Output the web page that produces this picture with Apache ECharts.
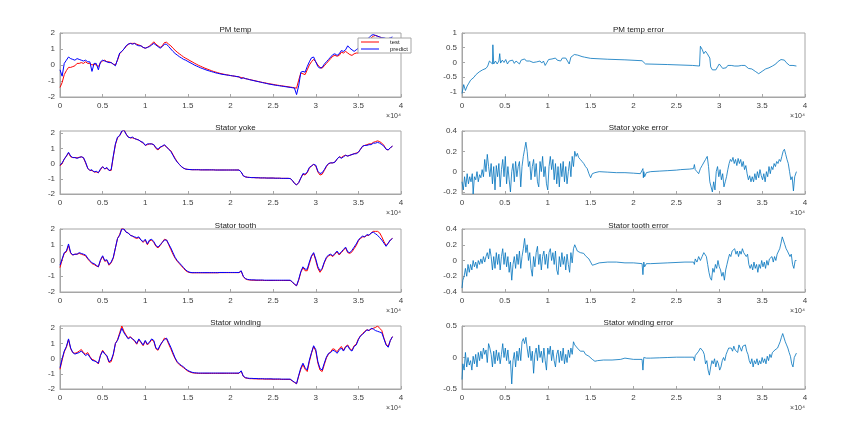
<!DOCTYPE html>
<html><head><meta charset="utf-8">
<script src="https://cdn.jsdelivr.net/npm/echarts@6/dist/echarts.min.js"></script>
<style>html,body{margin:0;padding:0;background:#fff}#c{width:865px;height:438px}</style>
</head><body><div id="c"></div>
<script>
// ---- data ----
const titles = ['PM temp','PM temp error','Stator yoke','Stator yoke error','Stator tooth','Stator tooth error','Stator winding','Stator winding error'];
const xTicks = [0,5000,10000,15000,20000,25000,30000,35000,40000];
const legendNames = ['test','predict'];
// sample positions for the left-column curves (every 250 samples)
const mainX = Array.from({length:157},(_,i)=>i*250);

const pmTest = [-1.4,-1.1,-0.6,-0.35,-0.15,-0.15,-0.1,-0.05,0.1,0.1,
0.15,0.1,0.2,0.1,0.1,0.0,0.05,0.0,-0.1,0.15,
0.25,0.3,0.2,0.2,0.15,0.05,0.0,0.3,0.7,0.85,
1.0,1.15,1.3,1.35,1.35,1.35,1.3,1.25,1.2,1.1,
1.05,1.1,1.2,1.3,1.45,1.3,1.2,1.1,1.2,1.4,
1.42,1.3,1.2,1.05,0.92,0.8,0.7,0.6,0.5,0.42,
0.35,0.27,0.2,0.12,0.05,-0.02,-0.08,-0.14,-0.2,-0.25,
-0.3,-0.35,-0.4,-0.44,-0.48,-0.52,-0.55,-0.58,-0.61,-0.63,
-0.66,-0.68,-0.7,-0.73,-0.75,-0.78,-0.81,-0.85,-0.88,-0.91,
-0.94,-0.97,-1.0,-1.03,-1.06,-1.09,-1.11,-1.14,-1.17,-1.19,
-1.21,-1.24,-1.26,-1.28,-1.3,-1.32,-1.34,-1.36,-1.38,-1.4,
-1.42,-1.45,-0.95,-0.5,-0.55,-0.6,-0.3,0.0,0.2,0.35,
0.2,0.0,-0.15,-0.2,-0.05,0.1,0.25,0.4,0.55,0.6,
0.55,0.6,0.8,0.75,0.85,0.75,0.65,0.6,0.7,0.75,
0.75,0.9,1.1,1.25,1.4,1.55,1.7,1.8,1.85,1.8,
1.75,1.7,1.65,1.6,1.55,1.6,1.65];
const pmPred = [-0.3,-0.7,0.1,0.3,0.5,0.4,0.35,0.3,0.4,0.35,
0.3,0.25,0.3,0.2,0.2,-0.4,0.1,0.1,-0.3,0.2,
0.3,0.25,0.2,0.15,0.15,0.05,-0.05,0.35,0.75,0.85,
1.0,1.2,1.3,1.35,1.3,1.35,1.25,1.2,1.2,1.1,
1.05,1.1,1.15,1.25,1.35,1.25,1.15,1.05,1.15,1.3,
1.3,1.15,1.0,0.85,0.72,0.62,0.52,0.44,0.35,0.3,
0.22,0.15,0.08,0.0,-0.06,-0.12,-0.18,-0.23,-0.28,-0.33,
-0.37,-0.41,-0.45,-0.49,-0.52,-0.55,-0.58,-0.6,-0.62,-0.64,
-0.66,-0.68,-0.7,-0.72,-0.74,-0.85,-0.8,-0.85,-0.88,-0.92,
-0.95,-0.98,-1.01,-1.04,-1.07,-1.1,-1.13,-1.16,-1.19,-1.21,
-1.24,-1.26,-1.28,-1.3,-1.32,-1.34,-1.36,-1.38,-1.4,-1.42,
-1.44,-1.85,-1.3,-0.45,-0.4,-0.45,-0.1,0.2,0.45,0.5,
0.2,-0.1,-0.2,-0.15,0.05,0.2,0.35,0.5,0.65,0.7,
0.6,0.7,0.9,0.85,0.95,1.2,1.05,0.95,0.85,0.95,
1.05,1.15,1.3,1.45,1.6,1.7,1.85,1.9,1.85,1.8,
1.75,1.7,1.7,1.65,1.65,1.7,1.75];

const yokeTest = [-0.15,0.0,0.3,0.5,0.7,0.45,0.4,0.4,0.38,0.42,
0.45,0.38,0.05,-0.3,-0.45,-0.45,-0.55,-0.55,-0.6,-0.4,
-0.2,-0.35,-0.3,-0.45,-0.45,0.45,1.25,1.7,1.85,2.1,
2.25,1.95,1.75,1.7,1.7,1.65,1.6,1.55,1.45,1.35,
1.2,1.25,1.3,1.3,1.25,1.0,0.9,1.05,1.15,1.2,
1.1,0.95,0.85,0.6,0.35,0.12,-0.05,-0.2,-0.3,-0.36,
-0.38,-0.39,-0.4,-0.4,-0.4,-0.4,-0.41,-0.41,-0.41,-0.41,
-0.41,-0.41,-0.41,-0.42,-0.42,-0.42,-0.42,-0.42,-0.42,-0.42,
-0.42,-0.42,-0.42,-0.42,-0.42,-0.55,-0.8,-0.87,-0.9,-0.91,
-0.92,-0.92,-0.93,-0.93,-0.94,-0.94,-0.94,-0.95,-0.95,-0.95,
-0.95,-0.96,-0.96,-0.96,-0.97,-0.97,-0.97,-0.97,-0.98,-1.1,
-1.3,-1.4,-1.25,-0.95,-0.7,-0.75,-0.6,-0.3,-0.15,-0.05,
-0.15,-0.55,-0.75,-0.7,-0.45,-0.2,0.0,0.05,0.05,0.1,
0.3,0.45,0.4,0.5,0.55,0.5,0.55,0.6,0.65,0.7,
0.75,0.95,1.15,1.2,1.25,1.3,1.3,1.4,1.45,1.5,
1.45,1.35,1.2,0.95,0.9,1.05,1.15];
const yokePred = [-0.1,0.05,0.3,0.5,0.75,0.5,0.4,0.4,0.35,0.4,
0.45,0.4,0.1,-0.3,-0.45,-0.4,-0.55,-0.5,-0.6,-0.35,
-0.2,-0.35,-0.25,-0.45,-0.4,0.5,1.3,1.75,1.85,2.15,
2.2,1.95,1.75,1.7,1.75,1.65,1.6,1.55,1.45,1.4,
1.2,1.3,1.3,1.3,1.25,1.05,0.95,1.1,1.15,1.25,
1.1,0.95,0.8,0.55,0.3,0.1,-0.05,-0.2,-0.3,-0.36,
-0.38,-0.39,-0.4,-0.4,-0.4,-0.4,-0.41,-0.41,-0.41,-0.41,
-0.41,-0.41,-0.41,-0.42,-0.42,-0.42,-0.42,-0.42,-0.42,-0.42,
-0.42,-0.42,-0.42,-0.42,-0.42,-0.55,-0.8,-0.87,-0.9,-0.91,
-0.92,-0.92,-0.93,-0.93,-0.94,-0.94,-0.94,-0.95,-0.95,-0.95,
-0.95,-0.96,-0.96,-0.96,-0.97,-0.97,-0.97,-0.97,-0.98,-1.1,
-1.3,-1.4,-1.25,-0.95,-0.65,-0.7,-0.55,-0.25,-0.15,-0.05,
-0.1,-0.5,-0.65,-0.6,-0.4,-0.15,0.0,0.05,0.05,0.1,
0.3,0.45,0.35,0.45,0.55,0.5,0.55,0.6,0.65,0.65,
0.75,0.95,1.15,1.2,1.2,1.25,1.25,1.35,1.35,1.4,
1.35,1.25,1.15,0.95,0.9,1.05,1.15];

const toothTest = [-0.45,0.05,0.45,0.55,0.95,0.45,0.35,0.4,0.4,0.45,
0.4,0.35,0.3,0.1,-0.05,-0.2,-0.25,-0.35,-0.4,0.0,
0.25,-0.05,0.0,-0.3,-0.15,0.15,0.8,1.4,1.65,2.05,
2.0,1.8,1.75,1.6,1.55,1.45,1.4,1.45,1.3,1.15,
1.3,1.0,1.25,1.3,1.15,0.9,0.8,0.95,1.15,1.35,
1.3,1.0,0.7,0.4,0.15,-0.05,-0.2,-0.35,-0.5,-0.65,
-0.73,-0.77,-0.78,-0.78,-0.78,-0.78,-0.78,-0.78,-0.78,-0.78,
-0.78,-0.78,-0.78,-0.78,-0.78,-0.77,-0.77,-0.77,-0.77,-0.77,
-0.77,-0.77,-0.77,-0.77,-0.77,-0.68,-1.02,-1.17,-1.22,-1.24,
-1.25,-1.25,-1.26,-1.26,-1.26,-1.26,-1.27,-1.27,-1.27,-1.27,
-1.27,-1.27,-1.27,-1.27,-1.27,-1.27,-1.27,-1.27,-1.27,-1.37,
-1.52,-1.6,-1.25,-0.75,-0.45,-0.65,-0.65,-0.2,0.25,0.45,
0.0,-0.5,-0.75,-0.55,-0.15,0.15,0.3,0.35,0.25,0.4,
0.55,0.35,0.5,0.65,0.8,0.5,0.45,0.55,0.75,0.95,
1.25,1.4,1.5,1.5,1.6,1.6,1.75,1.85,1.85,1.85,
1.75,1.5,1.2,0.95,1.1,1.3,1.4];
const toothPred = [-0.3,0.1,0.5,0.6,1.05,0.5,0.35,0.4,0.4,0.5,
0.45,0.4,0.35,0.15,0.0,-0.15,-0.2,-0.3,-0.4,0.05,
0.3,0.0,0.05,-0.25,-0.1,0.2,0.8,1.4,1.6,2.0,
2.0,1.8,1.75,1.6,1.55,1.5,1.45,1.5,1.3,1.2,
1.35,1.05,1.3,1.35,1.2,0.95,0.85,1.0,1.15,1.3,
1.3,1.05,0.8,0.5,0.2,0.0,-0.15,-0.3,-0.45,-0.6,
-0.7,-0.75,-0.77,-0.77,-0.77,-0.77,-0.77,-0.77,-0.77,-0.77,
-0.77,-0.77,-0.77,-0.77,-0.77,-0.76,-0.76,-0.76,-0.76,-0.76,
-0.76,-0.76,-0.76,-0.76,-0.76,-0.65,-1.0,-1.15,-1.2,-1.22,
-1.23,-1.23,-1.24,-1.24,-1.24,-1.24,-1.25,-1.25,-1.25,-1.25,
-1.25,-1.25,-1.25,-1.25,-1.25,-1.25,-1.25,-1.25,-1.25,-1.35,
-1.5,-1.6,-1.2,-0.7,-0.4,-0.55,-0.55,-0.1,0.3,0.5,
0.1,-0.4,-0.65,-0.5,-0.1,0.2,0.35,0.4,0.3,0.45,
0.6,0.4,0.55,0.7,0.85,0.55,0.5,0.65,0.85,1.05,
1.3,1.45,1.55,1.5,1.65,1.6,1.75,1.8,1.7,1.6,
1.45,1.3,1.1,0.9,1.1,1.3,1.4];

const windTest = [-0.7,-0.1,0.45,0.75,1.25,0.65,0.4,0.35,0.4,0.5,
0.6,0.4,0.3,0.4,0.15,-0.05,-0.1,-0.2,-0.35,0.25,
0.55,0.35,0.15,-0.25,-0.2,0.25,1.0,1.25,1.7,2.15,
1.8,1.55,1.35,1.45,1.3,1.15,0.95,1.25,1.05,0.85,
1.15,0.9,1.05,1.25,1.15,0.65,0.55,0.85,1.1,1.35,
1.3,0.95,0.65,0.3,0.0,-0.25,-0.4,-0.5,-0.6,-0.72,
-0.82,-0.88,-0.93,-0.95,-0.96,-0.97,-0.97,-0.97,-0.97,-0.97,
-0.97,-0.97,-0.97,-0.97,-0.97,-0.97,-0.97,-0.97,-0.97,-0.97,
-0.97,-0.97,-0.97,-0.97,-0.97,-0.82,-1.17,-1.27,-1.3,-1.32,
-1.32,-1.33,-1.33,-1.34,-1.34,-1.34,-1.35,-1.35,-1.35,-1.35,
-1.36,-1.36,-1.36,-1.36,-1.37,-1.37,-1.37,-1.37,-1.37,-1.47,
-1.57,-1.65,-1.15,-0.7,-0.4,-0.7,-0.85,-0.2,0.35,0.8,
0.5,-0.3,-0.75,-0.85,-0.4,0.05,0.3,0.45,0.65,0.6,
0.45,0.65,0.8,0.55,0.8,0.9,0.65,0.55,0.85,0.95,
1.3,1.5,1.65,1.8,1.9,1.85,1.95,2.0,2.05,2.15,
2.0,1.85,1.35,0.95,0.8,1.2,1.45];
const windPred = [-0.6,0.0,0.5,0.8,1.3,0.7,0.4,0.3,0.35,0.4,
0.5,0.35,0.2,0.3,0.1,-0.1,-0.15,-0.2,-0.3,0.2,
0.5,0.3,0.2,-0.2,-0.1,0.3,1.0,1.2,1.6,2.0,
1.7,1.5,1.3,1.4,1.3,1.2,1.0,1.3,1.1,0.9,
1.2,0.95,1.1,1.3,1.2,0.7,0.6,0.9,1.1,1.25,
1.35,1.05,0.75,0.4,0.05,-0.2,-0.35,-0.45,-0.55,-0.68,
-0.78,-0.85,-0.9,-0.93,-0.94,-0.95,-0.95,-0.95,-0.95,-0.95,
-0.95,-0.95,-0.95,-0.95,-0.95,-0.95,-0.95,-0.95,-0.95,-0.95,
-0.95,-0.95,-0.95,-0.95,-0.95,-0.8,-1.15,-1.25,-1.28,-1.3,
-1.3,-1.31,-1.31,-1.32,-1.32,-1.32,-1.33,-1.33,-1.33,-1.33,
-1.34,-1.34,-1.34,-1.34,-1.35,-1.35,-1.35,-1.35,-1.35,-1.45,
-1.55,-1.65,-1.1,-0.6,-0.3,-0.6,-0.75,-0.1,0.4,0.85,
0.6,-0.2,-0.65,-0.75,-0.3,0.1,0.35,0.4,0.55,0.5,
0.35,0.55,0.7,0.5,0.75,0.85,0.6,0.5,0.8,0.9,
1.25,1.5,1.6,1.75,1.9,1.85,2.0,1.95,1.85,1.8,
1.75,1.7,1.3,0.9,0.75,1.2,1.45];

// error curves: [sample index, error]
const pmErr = [[0,-1.05],[200,-0.75],[400,-0.95],[600,-0.8],[800,-0.7],[1000,-0.6],[1200,-0.55],[1400,-0.5],[1600,-0.42],[1800,-0.4],
[2000,-0.32],[2200,-0.35],[2400,-0.25],[2600,-0.22],[2800,-0.2],[3000,-0.12],[3200,0.05],[3400,0.1],[3550,-0.05],[3600,0.6],
[3700,-0.05],[3900,0.05],[4100,-0.05],[4300,0.05],[4400,0.3],[4500,-0.02],[4700,0.08],[4900,0.0],[5100,0.1],[5300,-0.05],
[5500,0.05],[5700,0.0],[5900,0.08],[6100,-0.03],[6300,0.05],[6500,0.02],[6700,-0.05],[6900,0.08],[7100,0.1],[7300,0.12],
[7500,0.05],[7700,0.1],[7900,0.05],[8100,0.08],[8300,0.0],[8500,0.06],[8700,0.02],[8900,0.08],[9100,0.05],[9300,-0.02],
[9500,0.05],[9700,-0.1],[9900,0.0],[10100,0.1],[10300,0.05],[10500,0.12],[10700,0.08],[10900,0.15],[11100,0.08],[11300,0.12],
[11500,0.05],[11700,0.15],[11900,0.1],[12100,0.15],[12300,0.12],[12500,-0.05],[12700,0.18],[12900,0.22],[13100,0.27],[13300,0.3],
[13500,0.25],[13700,0.21],[14000,0.2],[14300,0.18],[14400,0.22],[14500,0.15],[15000,0.14],[17000,0.11],[19000,0.09],[21000,0.06],
[21100,0.12],[21200,0.0],[21400,-0.05],[24000,-0.07],[26900,-0.1],[27000,-0.06],[27100,-0.11],[27700,-0.12],[27800,0.55],[28000,0.45],
[28200,0.3],[28400,0.38],[28600,0.3],[28800,0.35],[28900,0.15],[29000,-0.15],[29200,-0.25],[29400,-0.2],[29600,-0.25],[29800,-0.15],
[30000,-0.05],[30200,-0.1],[30400,-0.2],[30600,-0.22],[30800,-0.18],[31000,-0.1],[31200,-0.15],[31400,-0.1],[31600,-0.08],[31800,-0.12],
[32000,-0.07],[32200,-0.12],[32400,-0.08],[32600,-0.1],[32800,-0.12],[33000,-0.1],[33200,-0.15],[33400,-0.2],[33600,-0.18],[33800,-0.22],
[34000,-0.25],[34200,-0.3],[34400,-0.35],[34600,-0.38],[34800,-0.35],[35000,-0.3],[35200,-0.25],[35400,-0.22],[35600,-0.2],[35800,-0.18],
[36000,-0.15],[36200,-0.12],[36400,-0.1],[36600,-0.05],[36800,0.02],[37000,0.05],[37200,0.1],[37400,0.05],[37600,0.08],[37800,0.0],
[38000,-0.05],[38200,-0.1],[38400,-0.15],[38600,-0.1],[38800,-0.15],[39000,-0.12]];

const yokeErr = [[0,-0.1],[150,-0.18],[300,-0.05],[450,-0.15],[600,-0.02],[750,-0.12],[900,-0.05],[1050,-0.1],[1200,-0.02],[1300,-0.22],
[1450,-0.05],[1600,-0.08],[1750,0.0],[1900,-0.1],[2050,-0.03],[2200,-0.06],[2350,0.02],[2500,-0.05],[2650,0.12],[2800,0.0],
[2950,0.17],[3100,0.05],[3250,-0.05],[3400,0.08],[3550,-0.12],[3700,0.05],[3850,-0.18],[4000,0.06],[4150,-0.05],[4300,0.08],
[4450,-0.15],[4600,0.02],[4750,0.12],[4900,-0.05],[5050,0.15],[5200,-0.12],[5350,0.05],[5500,-0.08],[5650,-0.2],[5800,0.0],
[5950,0.08],[6100,-0.1],[6250,0.1],[6400,-0.05],[6550,0.05],[6700,0.1],[6850,-0.15],[7000,0.05],[7150,0.15],[7300,0.22],
[7450,0.29],[7600,0.2],[7750,0.05],[7900,0.1],[8050,-0.08],[8200,0.05],[8350,0.12],[8500,-0.05],[8650,0.08],[8800,-0.1],
[8950,-0.15],[9100,0.1],[9250,0.0],[9400,0.15],[9550,-0.05],[9700,0.05],[9850,-0.12],[10000,-0.18],[10150,0.05],[10300,0.15],
[10450,0.02],[10600,0.12],[10750,-0.08],[10900,0.08],[11050,-0.12],[11200,0.05],[11350,-0.15],[11500,0.08],[11650,-0.05],[11800,0.1],
[11950,-0.1],[12100,0.05],[12250,-0.12],[12400,0.0],[12550,0.1],[12700,-0.05],[12850,0.15],[13000,0.05],[13150,0.2],[13300,0.15],
[13450,0.18],[13600,0.14],[13800,0.12],[14000,0.1],[14200,0.08],[14400,0.05],[14600,0.03],[14800,-0.02],[15000,-0.06],[15200,-0.02],
[15500,-0.01],[16000,0.0],[17000,-0.005],[18000,-0.01],[19000,-0.01],[20000,-0.015],[20800,-0.02],[21000,-0.03],[21100,0.03],[21150,-0.06],
[21200,0.0],[21300,-0.05],[21500,-0.01],[22000,0.0],[23000,0.005],[24000,0.01],[25000,0.015],[25500,0.02],[25600,0.035],[25700,0.02],
[26500,0.025],[27000,0.03],[27100,0.07],[27200,0.02],[27400,0.0],[27600,-0.02],[27800,0.03],[28000,0.06],[28200,0.05],[28400,0.12],
[28600,0.15],[28750,0.05],[28900,-0.1],[29050,-0.15],[29200,-0.2],[29350,-0.1],[29500,-0.18],[29650,0.0],[29800,0.05],[29950,-0.05],
[30100,0.02],[30250,-0.08],[30400,-0.02],[30550,-0.15],[30700,-0.1],[30850,-0.05],[31000,0.02],[31150,0.08],[31300,0.12],[31450,0.1],
[31600,0.14],[31750,0.08],[31900,0.12],[32050,0.06],[32200,0.13],[32350,0.08],[32500,0.12],[32650,0.05],[32800,0.1],[32950,0.02],
[33100,0.06],[33250,-0.02],[33400,-0.08],[33550,-0.04],[33700,-0.1],[33850,-0.05],[34000,-0.1],[34150,-0.02],[34300,-0.08],[34450,0.0],
[34600,-0.06],[34750,0.02],[34900,-0.04],[35050,-0.08],[35200,-0.02],[35350,-0.1],[35500,0.0],[35650,-0.05],[35800,0.05],[35950,-0.02],
[36100,0.05],[36250,0.02],[36400,0.08],[36550,0.05],[36700,0.1],[36850,0.08],[37000,0.12],[37150,0.1],[37300,0.15],[37450,0.2],
[37600,0.22],[37750,0.17],[37900,0.12],[38050,0.08],[38200,0.0],[38350,-0.08],[38500,-0.05],[38650,-0.19],[38800,-0.05],[39000,0.0]];

const toothErr = [[0,-0.35],[100,-0.25],[250,-0.2],[400,-0.1],[550,-0.2],[700,-0.05],[850,-0.15],[1000,-0.05],[1150,-0.12],[1300,0.0],
[1450,-0.08],[1600,-0.02],[1750,-0.1],[1900,0.0],[2050,-0.05],[2200,0.02],[2350,-0.04],[2500,0.05],[2650,-0.02],[2800,0.05],
[2950,0.1],[3100,0.02],[3250,0.15],[3400,0.05],[3550,-0.12],[3700,0.05],[3850,-0.1],[4000,0.1],[4150,-0.05],[4300,0.08],
[4450,-0.12],[4600,0.05],[4750,0.15],[4900,-0.05],[5050,0.1],[5200,-0.08],[5350,0.05],[5500,-0.15],[5650,-0.02],[5800,-0.25],
[5950,-0.05],[6100,0.05],[6250,-0.1],[6400,0.08],[6550,-0.05],[6700,0.12],[6850,-0.1],[7000,0.05],[7150,0.15],[7300,0.28],
[7450,0.1],[7600,0.2],[7750,0.0],[7900,0.1],[8050,-0.1],[8200,-0.2],[8350,0.05],[8500,-0.08],[8650,0.1],[8800,0.18],
[8950,-0.05],[9100,0.08],[9250,-0.12],[9400,0.05],[9550,0.12],[9700,-0.05],[9850,0.08],[10000,-0.1],[10150,0.1],[10300,0.15],
[10450,0.0],[10600,0.1],[10750,-0.05],[10900,0.12],[11050,-0.12],[11200,-0.18],[11350,0.05],[11500,-0.08],[11650,0.1],[11800,-0.05],
[11950,0.05],[12100,-0.12],[12250,0.08],[12400,-0.05],[12550,-0.15],[12700,0.1],[12850,-0.03],[13000,0.15],[13150,0.2],[13300,0.22],
[13450,0.12],[13600,0.1],[13800,0.1],[14000,0.08],[14200,0.09],[14400,0.06],[14600,0.05],[14800,0.02],[15000,0.0],[15200,-0.06],
[15500,-0.05],[16000,-0.03],[17000,-0.02],[18000,-0.02],[19000,-0.03],[20000,-0.03],[21000,-0.04],[21100,-0.18],[21200,-0.02],[21300,-0.08],
[21500,-0.04],[22000,-0.04],[24000,-0.03],[26000,-0.02],[27000,-0.02],[27100,-0.05],[27200,0.02],[27400,-0.02],[27600,0.05],[27800,0.0],
[28000,0.05],[28200,0.1],[28350,0.12],[28500,0.05],[28650,-0.05],[28800,-0.15],[28950,-0.22],[29100,-0.25],[29250,-0.1],[29400,-0.15],
[29550,-0.05],[29700,-0.1],[29850,0.0],[30000,-0.08],[30150,-0.12],[30300,-0.2],[30450,-0.15],[30600,-0.25],[30750,-0.12],[30900,-0.05],
[31050,0.02],[31200,0.08],[31350,0.05],[31500,0.12],[31650,0.1],[31800,0.15],[31950,0.08],[32100,0.12],[32250,0.05],[32400,0.12],
[32550,0.08],[32700,0.15],[32850,0.1],[33000,0.12],[33150,0.05],[33300,0.08],[33450,-0.05],[33600,-0.1],[33750,-0.05],[33900,-0.12],
[34050,-0.02],[34200,-0.1],[34350,-0.05],[34500,-0.15],[34650,-0.05],[34800,-0.1],[34950,0.0],[35100,-0.08],[35250,-0.02],[35400,-0.1],
[35550,0.0],[35700,-0.06],[35850,0.02],[36000,0.0],[36150,0.05],[36300,-0.02],[36450,0.05],[36600,0.0],[36750,0.08],[36900,0.1],
[37050,0.15],[37200,0.22],[37350,0.3],[37500,0.32],[37650,0.2],[37800,0.15],[37950,0.12],[38100,0.1],[38250,0.05],[38400,0.08],
[38550,-0.05],[38700,-0.1],[38850,0.0],[39000,0.0]];

const windErr = [[0,-0.35],[100,-0.1],[250,-0.2],[400,0.08],[550,-0.15],[700,0.0],[850,-0.12],[1000,-0.05],[1150,-0.2],[1300,0.02],
[1450,-0.1],[1600,0.05],[1750,-0.15],[1900,0.08],[2050,-0.05],[2200,0.1],[2350,-0.02],[2500,0.15],[2650,0.05],[2800,0.12],
[2950,-0.08],[3100,0.22],[3250,0.15],[3400,0.05],[3550,-0.15],[3700,0.1],[3850,-0.1],[4000,0.12],[4150,-0.05],[4300,0.08],
[4450,-0.1],[4600,0.05],[4750,0.22],[4900,0.0],[5050,0.15],[5200,-0.05],[5350,0.12],[5500,-0.1],[5650,-0.05],[5800,-0.42],
[5950,-0.05],[6100,0.08],[6250,-0.15],[6400,0.1],[6550,-0.05],[6700,0.15],[6850,-0.05],[7000,0.25],[7150,0.3],[7300,0.22],
[7450,0.32],[7600,0.15],[7750,0.0],[7900,0.18],[8050,-0.05],[8200,0.1],[8350,-0.25],[8500,0.05],[8650,0.15],[8800,-0.05],
[8950,0.2],[9100,0.0],[9250,0.1],[9400,-0.08],[9550,0.15],[9700,-0.05],[9850,-0.2],[10000,0.15],[10150,0.05],[10300,0.18],
[10450,-0.05],[10600,0.12],[10750,-0.05],[10900,-0.15],[11050,0.05],[11200,0.12],[11350,-0.08],[11500,0.1],[11650,-0.05],[11800,0.15],
[11950,-0.1],[12100,0.05],[12250,-0.08],[12400,0.12],[12550,0.0],[12700,0.15],[12850,0.05],[13000,0.25],[13150,0.2],[13300,0.22],
[13450,0.15],[13600,0.12],[13800,0.1],[14000,0.08],[14200,0.1],[14400,0.05],[14600,0.06],[14800,0.02],[15000,0.0],[15200,-0.03],
[15500,-0.06],[15800,-0.05],[16500,-0.04],[17500,-0.04],[18500,-0.03],[19000,-0.01],[19100,-0.04],[20000,-0.03],[21000,-0.03],[21100,-0.2],
[21200,0.0],[21300,0.02],[21500,-0.01],[22000,-0.01],[23000,-0.005],[24000,0.0],[25000,0.005],[26000,0.005],[27000,0.005],[27100,-0.05],
[27200,0.03],[27400,0.05],[27600,0.1],[27800,0.15],[27950,0.18],[28100,0.1],[28250,0.05],[28400,-0.1],[28550,-0.05],[28700,-0.2],
[28850,-0.28],[29000,-0.15],[29150,-0.05],[29300,-0.1],[29450,-0.02],[29600,-0.15],[29750,-0.05],[29900,-0.1],[30050,-0.2],[30200,-0.15],
[30350,-0.05],[30500,0.0],[30650,-0.05],[30800,0.05],[30950,0.1],[31100,0.15],[31250,0.12],[31400,0.15],[31550,0.1],[31700,0.18],
[31850,0.12],[32000,0.15],[32150,0.08],[32300,0.2],[32450,0.15],[32600,0.1],[32750,0.18],[32900,0.15],[33050,0.2],[33200,0.1],
[33350,0.05],[33500,-0.05],[33650,-0.1],[33800,-0.02],[33950,-0.15],[34100,-0.05],[34250,-0.1],[34400,-0.02],[34550,-0.12],[34700,-0.05],
[34850,-0.1],[35000,0.0],[35150,-0.08],[35300,-0.02],[35450,-0.1],[35600,0.02],[35750,-0.05],[35900,0.05],[36050,0.0],[36200,0.08],
[36350,0.05],[36500,0.12],[36650,0.1],[36800,0.15],[36950,0.2],[37100,0.25],[37250,0.32],[37400,0.38],[37550,0.35],[37700,0.25],
[37850,0.2],[38000,0.15],[38150,0.08],[38300,0.02],[38450,-0.1],[38600,-0.15],[38750,0.0],[39000,0.07]];

// ---- layout & styling ----
const colLeft = [60, 462], colWidth = [341, 343];
const rowTop = [33, 131, 229, 326], rowHeight = [64, 63, 63, 63];
const yCfg = [
  {min:-2, max:2, interval:1},
  {min:-1.17, max:1, splitNumber:4, hideMin:true},
  {min:-2, max:2.15, interval:1, hideMax:true},
  {min:-0.22, max:0.4, splitNumber:3, hideMin:true},
  {min:-2, max:2, interval:1},
  {min:-0.4, max:0.4, interval:0.2},
  {min:-2, max:2.15, interval:1, hideMax:true},
  {min:-0.5, max:0.5, interval:0.5}
];
const axisCol = '#a6a6a6', labCol = '#404040', font = 'Liberation Sans, Arial, sans-serif';
const grids=[], xAxes=[], yAxes=[], ttl=[], series=[];
for (let i=0;i<8;i++){
  const r=Math.floor(i/2), c=i%2;
  grids.push({left:colLeft[c], top:rowTop[r], width:colWidth[c], height:rowHeight[r], show:true, borderColor:axisCol, borderWidth:1, containLabel:false});
  xAxes.push({gridIndex:i, type:'value', min:0, max:40000, interval:5000, position:'bottom',
    axisLine:{onZero:false, lineStyle:{color:axisCol}}, axisTick:{inside:true, length:3, lineStyle:{color:axisCol}},
    splitLine:{show:false},
    axisLabel:{color:labCol, fontSize:8, fontFamily:font, margin:5, formatter:v=>String(v/10000)},
    name:'×10⁴', nameLocation:'end', nameGap:0,
    nameTextStyle:{color:labCol, fontSize:7, fontFamily:font, align:'right', verticalAlign:'top', padding:[16,0,0,0]}});
  const y=yCfg[i];
  const ya={gridIndex:i, type:'value', min:y.min, max:y.max, position:'left',
    axisLine:{show:true, onZero:false, lineStyle:{color:axisCol}}, axisTick:{show:true, inside:true, length:3, lineStyle:{color:axisCol}},
    splitLine:{show:false},
    axisLabel:{color:labCol, fontSize:8, fontFamily:font, margin:5, showMinLabel:!y.hideMin, showMaxLabel:!y.hideMax}};
  if (y.interval) ya.interval=y.interval; else ya.splitNumber=y.splitNumber;
  yAxes.push(ya);
  ttl.push({text:titles[i], left:colLeft[c]+colWidth[c]/2, top:rowTop[r]-12, textAlign:'center',
    textStyle:{fontSize:8, fontWeight:'normal', color:'#222', fontFamily:font}});
}
const pairs=(xs,ys)=>xs.map((x,k)=>[x,ys[k]]);
const mains=[[pmTest,pmPred],[yokeTest,yokePred],[toothTest,toothPred],[windTest,windPred]];
const errs=[pmErr,yokeErr,toothErr,windErr];
for (let r=0;r<4;r++){
  const gi=r*2;
  series.push({type:'line', name:legendNames[0], xAxisIndex:gi, yAxisIndex:gi, data:pairs(mainX,mains[r][0]),
    showSymbol:false, symbol:'none', lineStyle:{color:'#ff0000', width:1}, itemStyle:{color:'#ff0000'}, z:2});
  series.push({type:'line', name:legendNames[1], xAxisIndex:gi, yAxisIndex:gi, data:pairs(mainX,mains[r][1]),
    showSymbol:false, symbol:'none', lineStyle:{color:'#0000ff', width:1}, itemStyle:{color:'#0000ff'}, z:3});
  series.push({type:'line', name:'err'+r, xAxisIndex:gi+1, yAxisIndex:gi+1, data:errs[r],
    showSymbol:false, symbol:'none', lineStyle:{color:'#0072bd', width:0.8}, itemStyle:{color:'#0072bd'}});
}
const chart=echarts.init(document.getElementById('c'), null, {renderer:'canvas'});
chart.setOption({
  animation:false, backgroundColor:'#ffffff',
  title:ttl, grid:grids, xAxis:xAxes, yAxis:yAxes, series:series,
  legend:{data:legendNames, orient:'vertical', left:358, top:38, itemGap:1, itemWidth:18, itemHeight:1, icon:'rect',
    backgroundColor:'#ffffff', borderColor:'#a6a6a6', borderWidth:1, padding:[1,3,1,3],
    textStyle:{fontSize:6, color:'#222', fontFamily:font, padding:[0,0,0,6]}, z:10}
});
</script></body></html>
